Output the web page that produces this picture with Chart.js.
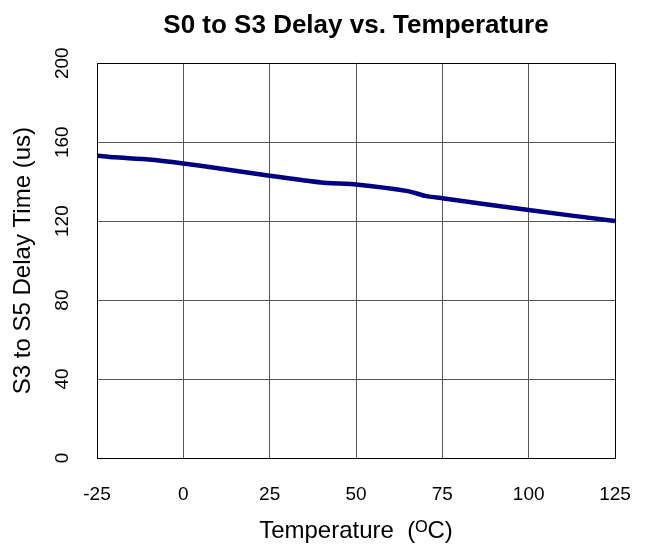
<!DOCTYPE html>
<html>
<head>
<meta charset="utf-8">
<title>S0 to S3 Delay vs. Temperature</title>
<script src="https://cdn.jsdelivr.net/npm/chart.js@4"></script>
<style>
  html, body { margin: 0; padding: 0; background: #fff; }
  #wrap { width: 649px; height: 546px; }
</style>
</head>
<body>
<div id="wrap"><canvas id="delayChart" width="649" height="546"></canvas></div>
<script>
// Delay measurements across temperature
const temperatures = [-25, -20, -10, 0, 10, 25, 40, 50, 65, 70, 75, 100, 125];
const delayUs = [153.2, 152.3, 151.2, 149.2, 146.8, 143.0, 139.6, 138.6, 135.2, 132.8, 131.6, 125.6, 120.0];

const xTicks = [-25, 0, 25, 50, 75, 100, 125];
const yTicks = [0, 40, 80, 120, 160, 200];

const FONT = "'Liberation Sans', Arial, Helvetica, sans-serif";

const points = temperatures.map((t, i) => ({ x: t, y: delayUs[i] }));

// edge grid lines are black, inner ones gray
const gridColor = (max) => (ctx) => (ctx.tick && ctx.tick.value === max ? '#000' : '#555');

const ctx = document.getElementById('delayChart').getContext('2d');
const delayChart = new Chart(ctx, {
    type: 'line',
    data: {
        datasets: [{
            data: points,
            borderColor: '#000080',
            borderWidth: 4.5,
            pointRadius: 0,
            tension: 0.15,
            fill: false
        }]
    },
    options: {
        responsive: false,
        animation: false,
        layout: { padding: { left: 0, right: 34, top: 0, bottom: 0 } },
        plugins: {
            legend: { display: false },
            tooltip: { enabled: false },
            title: {
                display: true,
                text: 'S0 to S3 Delay vs. Temperature',
                fullSize: false,
                color: '#000',
                font: { family: FONT, size: 26, weight: 'bold', lineHeight: 1.2 },
                padding: { top: 10, bottom: 22 }
            }
        },
        scales: {
            x: {
                type: 'linear',
                min: xTicks[0],
                max: xTicks[xTicks.length - 1],
                afterBuildTicks: (scale) => { scale.ticks = xTicks.map(v => ({ value: v })); },
                afterFit: (scale) => {
                    scale.height = 88;
                    scale.paddingLeft = 0;
                    scale.paddingRight = 0;
                },
                grid: { color: gridColor(125), lineWidth: 1, drawTicks: false },
                border: { color: '#000', width: 1 },
                ticks: {
                    color: '#000',
                    font: { family: FONT, size: 19 },
                    padding: 25,
                    maxRotation: 0
                },
                title: {
                    display: true,
                    text: 'Temperature  (\u1D3CC)',
                    color: '#000',
                    font: { family: FONT, size: 24, lineHeight: 1.2 },
                    padding: { top: 0, bottom: 0 }
                }
            },
            y: {
                min: yTicks[0],
                max: yTicks[yTicks.length - 1],
                afterBuildTicks: (scale) => { scale.ticks = yTicks.map(v => ({ value: v })); },
                afterFit: (scale) => {
                    scale.width = 97;
                    scale.paddingTop = 0;
                    scale.paddingBottom = 0;
                },
                grid: { color: gridColor(200), lineWidth: 1, drawTicks: false },
                border: { color: '#000', width: 1 },
                ticks: {
                    color: '#000',
                    font: { family: FONT, size: 19 },
                    padding: 18,
                    minRotation: 90,
                    maxRotation: 90,
                    crossAlign: 'center'
                },
                title: {
                    display: true,
                    text: 'S3 to S5 Delay Time (us)',
                    color: '#000',
                    font: { family: FONT, size: 24, lineHeight: 1.2 },
                    padding: { top: 9, bottom: 0 }
                }
            }
        }
    }
});
</script>
</body>
</html>
